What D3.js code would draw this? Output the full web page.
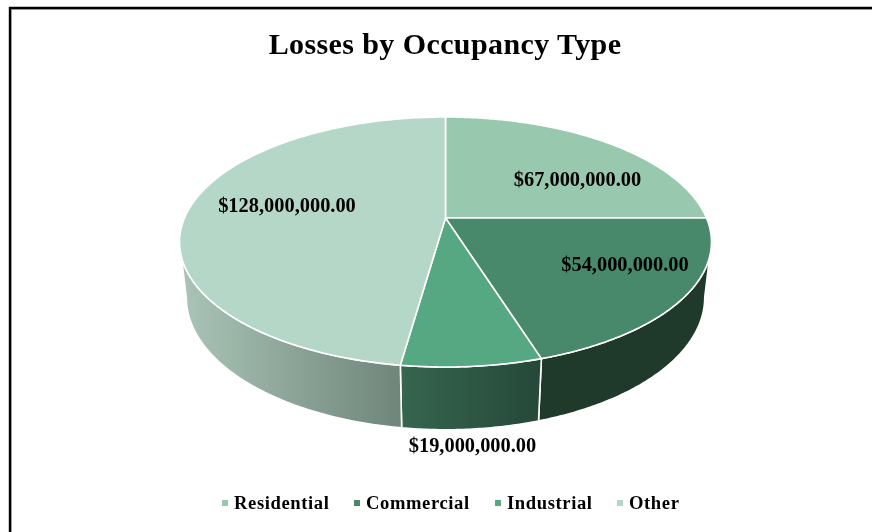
<!DOCTYPE html>
<html>
<head>
<meta charset="utf-8">
<script src="https://cdn.jsdelivr.net/npm/d3@7"></script>
<style>
  html, body { margin: 0; padding: 0; background: #fff; }
  svg { display: block; filter: blur(0.35px); }
  text { font-family: "Liberation Serif", serif; font-weight: bold; fill: #000; }
</style>
</head>
<body>
<svg id="chart" width="872" height="532"></svg>
<script>
// chart data
const categories = ["Residential", "Commercial", "Industrial", "Other"];
const losses = [67000000, 54000000, 19000000, 128000000];
const topColors = ["#98c8ae", "#47896a", "#55a882", "#b5d7c8"];
const titleText = "Losses by Occupancy Type";

// where the value labels sit (centre x, baseline y)
const labelSpots = [[577.5, 186], [625, 271], [472.5, 452], [287, 212]];
// legend layout: marker left edge for each entry
const legendX = [222, 354, 495, 617];

const svg = d3.select("#chart");
const defs = svg.append("defs");

// perspective of the pie, fitted to the picture
const cx = 445.5, cy = 218;
const a = 261, b = 120.4, k = 0.192;  // top disk
const c = 56, m = 0.025;              // how far down the bottom disk is

// level 0 = top face, level 1 = bottom face
function project(angle, level) {
  const X = Math.sin(angle), Y = -Math.cos(angle);
  const w = 1 - k * Y + m * level;
  return [cx + a * X / w, cy + (b * Y + c * level) / w];
}

function arcPoints(start, end, level) {
  const n = Math.max(2, Math.ceil((end - start) / 0.01));
  return d3.range(n + 1).map(i => project(start + (end - start) * i / n, level));
}

const line = d3.line();
const pie = d3.pie().sort(null).value(d => d)(losses);

// gradients on the side walls
function wallGradient(id, x1, x2, from, to) {
  const g = defs.append("linearGradient").attr("id", id)
    .attr("gradientUnits", "userSpaceOnUse")
    .attr("x1", x1).attr("x2", x2).attr("y1", 0).attr("y2", 0);
  g.append("stop").attr("offset", "0%").attr("stop-color", from);
  g.append("stop").attr("offset", "100%").attr("stop-color", to);
}
wallGradient("wall-industrial", 401, 540, "#36664f", "#264839");
wallGradient("wall-other", 187, 401, "#a8c3b5", "#6f8579");

const wallFills = ["#1f3a2b", "#1f3a2b", "url(#wall-industrial)", "url(#wall-other)"];

// only the part of the wall that faces the viewer
const edgeY = k / (1 + m);
const wallFrom = Math.acos(-edgeY);
const wallTo = 2 * Math.PI - wallFrom;

const walls = svg.append("g").attr("id", "walls");
pie.forEach((d, i) => {
  const s = Math.max(d.startAngle, wallFrom), e = Math.min(d.endAngle, wallTo);
  if (e <= s) return;
  const pts = arcPoints(s, e, 0).concat(arcPoints(s, e, 1).reverse());
  walls.append("path")
    .attr("d", line(pts) + "Z")
    .attr("fill", wallFills[i])
    .attr("stroke", "#fff")
    .attr("stroke-width", 1.6)
    .attr("stroke-linejoin", "round");
});

// top face
svg.append("g").attr("id", "slices")
  .selectAll("path")
  .data(pie)
  .enter()
  .append("path")
  .attr("d", d => line([[cx, cy]].concat(arcPoints(d.startAngle, d.endAngle, 0))) + "Z")
  .attr("fill", (d, i) => topColors[i])
  .attr("stroke", "#fff")
  .attr("stroke-width", 1.6)
  .attr("stroke-linejoin", "round");

// value labels
const moneyFormat = d3.format("$,.2f");
svg.append("g").attr("id", "labels")
  .selectAll("text")
  .data(losses)
  .enter()
  .append("text")
  .attr("x", (d, i) => labelSpots[i][0])
  .attr("y", (d, i) => labelSpots[i][1])
  .attr("text-anchor", "middle")
  .style("font-size", "20.4px")
  .text(d => moneyFormat(d));

// title
svg.append("text")
  .attr("x", 445)
  .attr("y", 54)
  .attr("text-anchor", "middle")
  .style("font-size", "30px")
  .style("letter-spacing", "0.4px")
  .text(titleText);

// legend
const legend = svg.append("g").attr("id", "legend");
categories.forEach((name, i) => {
  legend.append("rect")
    .attr("x", legendX[i])
    .attr("y", 500)
    .attr("width", 6)
    .attr("height", 6)
    .attr("fill", topColors[i]);
  legend.append("text")
    .attr("x", legendX[i] + 12)
    .attr("y", 509)
    .style("font-size", "18.6px")
    .style("letter-spacing", "0.6px")
    .text(name);
});

// frame, only the top and left edges are in the crop
svg.append("path").attr("d", "M11.5,532V9.5H872").attr("fill", "none").attr("stroke", "#c8c8c8").attr("stroke-width", 1);
svg.append("path").attr("d", "M10,532V8H872").attr("fill", "none").attr("stroke", "#000").attr("stroke-width", 2.4);
</script>
</body>
</html>
